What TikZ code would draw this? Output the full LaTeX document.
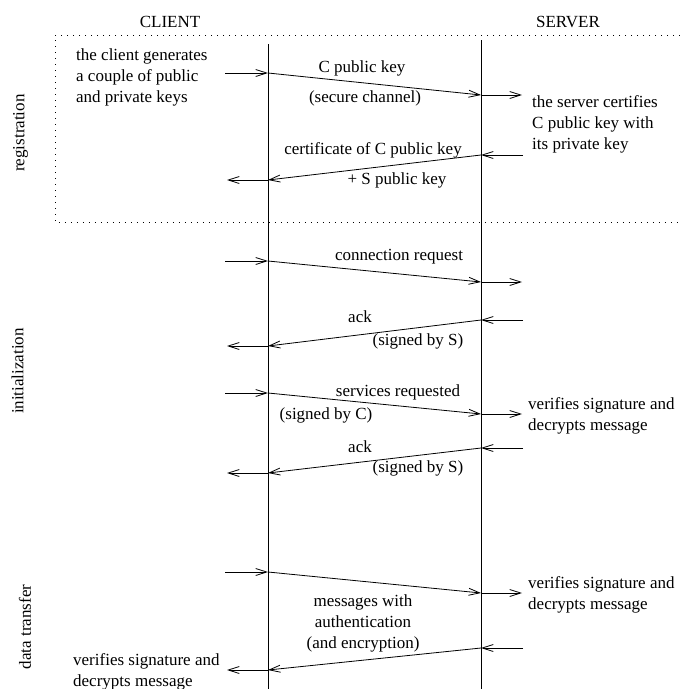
\documentclass[tikz,border=0pt]{standalone}
\usepackage{fontspec}
\setmainfont{Liberation Serif}
\usetikzlibrary{arrows.meta}
\begin{document}
\begin{tikzpicture}[x=1pt,y=-1pt,
  txt/.style={inner sep=0pt, font=\fontsize{17}{21}\selectfont},
  ltxt/.style={txt, align=left, anchor=west},
  ctxt/.style={txt, align=center},
  msg/.style={line width=0.8pt, -{Straight Barb[length=11pt,width=7pt,line width=0.8pt]}},
  life/.style={line width=0.8pt},
  frame/.style={line width=1pt, dash pattern=on 0.8pt off 5.2pt},
  side/.style={txt, rotate=90}]
\useasboundingbox (0,0) rectangle (680,689);

% headers
\node[txt] (client) at (170,21.5) {CLIENT};
\node[txt] (server) at (568,22) {SERVER};

% registration frame
\coordinate (fTR) at (680,35);
\coordinate (fTL) at (55,35);
\coordinate (fBL) at (55,222);
\coordinate (fBR) at (680,222);
\draw[frame] (fTR) -- (fTL) -- (fBL) -- (fBR);

% lifelines
\coordinate (ctop) at (268,44);
\coordinate (cbot) at (268,689);
\coordinate (stop) at (481,40);
\coordinate (sbot) at (481,689);
\draw[life] (ctop) -- (cbot);
\draw[life] (stop) -- (sbot);

% side labels
\node[side] (lreg) at (20.5,133) {registration};
\node[side] (lini) at (17.5,371) {initialization};
\node[side] (ldat) at (25,627) {data transfer};

% ---- registration
\coordinate (cin1) at (225,73);  \coordinate (c1) at (268,73);
\coordinate (s1) at (481,95);    \coordinate (sout1) at (522,95);
\draw[msg] (cin1) -- (c1);
\draw[msg] (c1) -- (s1);
\draw[msg] (s1) -- (sout1);
\coordinate (sin2) at (523,155); \coordinate (s2) at (481,155);
\coordinate (c2) at (268,180);   \coordinate (cout2) at (227,180);
\draw[msg] (sin2) -- (s2);
\draw[msg] (s2) -- (c2);
\draw[msg] (c2) -- (cout2);

\node[ltxt] (cgen) at (76,77) {the client generates\\a couple of public\\and private keys};
\node[ltxt] (scert) at (532,124) {the server certifies\\C public key with\\its private key};
\node[txt] (m1) at (362,68) {C public key};
\node[txt] (m1b) at (365,98) {(secure channel)};
\node[txt] (m2) at (373,150) {certificate of C public key};
\node[txt] (m2b) at (397,180) {+ S public key};

% ---- initialization
\coordinate (cin3) at (225,261); \coordinate (c3) at (268,261);
\coordinate (s3) at (481,282);   \coordinate (sout3) at (522,282);
\draw[msg] (cin3) -- (c3);
\draw[msg] (c3) -- (s3);
\draw[msg] (s3) -- (sout3);
\coordinate (sin4) at (523,320); \coordinate (s4) at (481,320);
\coordinate (c4) at (268,346);   \coordinate (cout4) at (227,346);
\draw[msg] (sin4) -- (s4);
\draw[msg] (s4) -- (c4);
\draw[msg] (c4) -- (cout4);
\coordinate (cin5) at (225,393); \coordinate (c5) at (268,393);
\coordinate (s5) at (481,414);   \coordinate (sout5) at (522,414);
\draw[msg] (cin5) -- (c5);
\draw[msg] (c5) -- (s5);
\draw[msg] (s5) -- (sout5);
\coordinate (sin6) at (523,448); \coordinate (s6) at (481,448);
\coordinate (c6) at (268,473);   \coordinate (cout6) at (227,473);
\draw[msg] (sin6) -- (s6);
\draw[msg] (s6) -- (c6);
\draw[msg] (c6) -- (cout6);

\node[txt] (m3) at (399,257) {connection request};
\node[txt] (m4) at (360,317) {ack};
\node[txt] (m4b) at (418,341) {(signed by S)};
\node[txt] (m5) at (398,392) {services requested};
\node[txt] (m5b) at (326,415) {(signed by C)};
\node[txt] (m6) at (360,447) {ack};
\node[txt] (m6b) at (418,468) {(signed by S)};
\node[ltxt] (sver1) at (528,416) {verifies signature and\\decrypts message};

% ---- data transfer
\coordinate (cin7) at (225,572); \coordinate (c7) at (268,572);
\coordinate (s7) at (481,593);   \coordinate (sout7) at (522,593);
\draw[msg] (cin7) -- (c7);
\draw[msg] (c7) -- (s7);
\draw[msg] (s7) -- (sout7);
\coordinate (sin8) at (523,648); \coordinate (s8) at (481,648);
\coordinate (c8) at (268,670);   \coordinate (cout8) at (227,670);
\draw[msg] (sin8) -- (s8);
\draw[msg] (s8) -- (c8);
\draw[msg] (c8) -- (cout8);

\node[ctxt] (m7) at (363,623) {messages with\\authentication\\(and encryption)};
\node[ltxt] (sver2) at (528,594.5) {verifies signature and\\decrypts message};
\node[ltxt] (cver) at (73,672) {verifies signature and\\decrypts message};
\end{tikzpicture}
\end{document}
